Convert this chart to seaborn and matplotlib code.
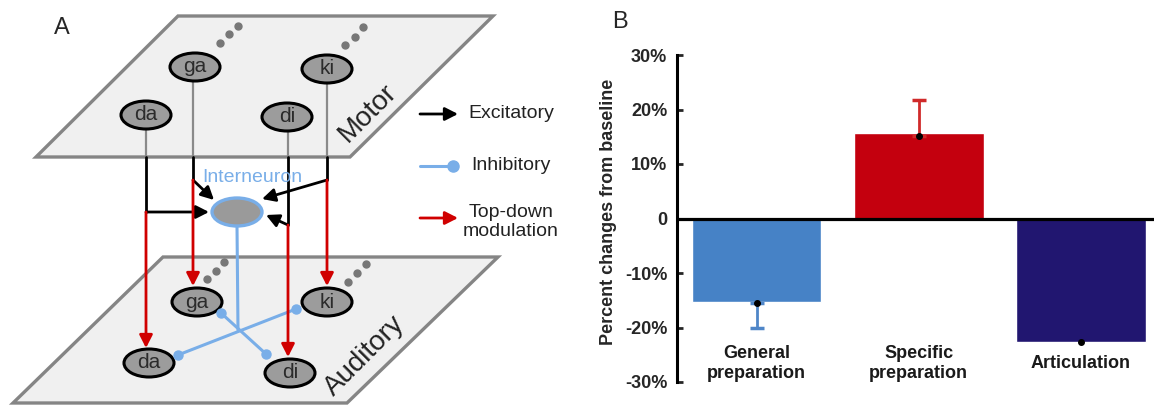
#!/usr/bin/env python3
"""Panel A: motor/auditory network diagram, panel B: percent change bar chart"""

import matplotlib
matplotlib.use("Agg")
import matplotlib.pyplot as plt
import pandas as pd
import seaborn as sns
from matplotlib.patches import Polygon, Ellipse, FancyArrowPatch

####################################################################################################
# PANEL B DATA
conditions = ["General\npreparation", "Specific\npreparation", "Articulation"]
change_pct = [-15.4, 15.6, -22.7]
mean_dots = [-15.5, 15.2, -22.7]
err_low = [4.6, 0.0, 0.0]
err_high = [0.0, 6.6, 0.0]
bar_colors = ["#4682c6", "#c4000e", "#211670"]
err_colors = ["#4f86c8", "#d02a2a", "#211670"]
ytick_vals = [-30, -20, -10, 0, 10, 20, 30]
ytick_text = ["-30%", "-20%", "-10%", "0", "10%", "20%", "30%"]

# PANEL A DIAGRAM (picture pixel coordinates)
motor_plane = [(178, 16), (493, 16), (350, 157), (36, 157)]
auditory_plane = [(163, 257), (498, 257), (347, 403), (13, 403)]
node_labels = ["da", "ga", "di", "ki"]
motor_nodes = [(146, 115), (195, 67), (287, 117), (327, 69)]
auditory_nodes = [(149, 363), (197, 302), (290, 373), (327, 302)]
path_x = [146, 193, 288, 327]
branch_y = [212, 180, 225, 180]
excit_tips = [(209, 212), (214, 200), (266, 215), (262, 199)]
red_tips = [348, 286, 357, 286]
interneuron = (237, 212)
inhib_stem = [(237, 226), (238, 330)]
inhib_links = [[(221, 313), (266, 354)], [(296, 309), (178, 355)]]
motor_dots = [[(220, 43), (229, 34), (238, 26)], [(345, 45), (355, 37), (363, 27)]]
auditory_dots = [[(207, 279), (216, 271), (224, 262)], [(348, 282), (357, 273), (366, 264)]]
####################################################################################################

sns.set_style("white")
plt.rcParams["font.family"] = ["Liberation Sans", "DejaVu Sans"]

fig = plt.figure(figsize=(11.54, 4.05), dpi=100)

# ---------------- panel A ----------------
ax_a = fig.add_axes([0, 0, 1, 1])
ax_a.set_xlim(0, 1154)
ax_a.set_ylim(405, 0)
ax_a.axis("off")

BLUE = "#79aee8"
RED = "#d00000"
GREY_LINE = "#8a8a8a"


def arrow(ax, p0, p1, color, z=4):
    ax.add_patch(FancyArrowPatch(p0, p1, arrowstyle="-|>,head_length=0.55,head_width=0.28",
                                 mutation_scale=14, color=color, lw=2.0,
                                 shrinkA=0, shrinkB=0, zorder=z))


for plane in (motor_plane, auditory_plane):
    ax_a.add_patch(Polygon(plane, closed=True, fc="#f0f0f0", ec="#858585", lw=2.4, zorder=1))

for group in motor_dots + auditory_dots:
    ax_a.plot([p[0] for p in group], [p[1] for p in group], "o", color="#777777", ms=5, zorder=2)

# descending pathways: grey inside the motor plane, black below it, then split
for i in range(4):
    x = path_x[i]
    top = motor_nodes[i][1] + 14
    ax_a.plot([x, x], [top, 157], color=GREY_LINE, lw=1.6, zorder=3)
    ax_a.plot([x, x], [157, branch_y[i]], color="black", lw=2.0, zorder=3)
    arrow(ax_a, (x, branch_y[i]), excit_tips[i], "black")
    arrow(ax_a, (x, branch_y[i]), (x, red_tips[i]), RED)

# inhibitory connections
ax_a.plot(*zip(*inhib_stem), color=BLUE, lw=2.2, zorder=3)
for link in inhib_links:
    ax_a.plot(*zip(*link), color=BLUE, lw=2.2, zorder=3)
    ax_a.plot(*zip(*link), "o", color=BLUE, ms=6.5, zorder=6)

ax_a.add_patch(Ellipse(interneuron, 50, 28, fc="#9a9a9a", ec=BLUE, lw=2.4, zorder=5))
ax_a.text(252, 178, "Interneuron", color=BLUE, fontsize=14, ha="center", va="center", zorder=6)

for nodes in (motor_nodes, auditory_nodes):
    for lab, (x, y) in zip(node_labels, nodes):
        ax_a.add_patch(Ellipse((x, y), 50, 28, fc="#9c9c9c", ec="black", lw=2.2, zorder=5))
        ax_a.text(x, y, lab, fontsize=15, color="#2b2b2b", ha="center", va="center", zorder=6)

ax_a.text(368, 113, "Motor", fontsize=20, rotation=45, ha="center", va="center", color="#222222", zorder=6)
ax_a.text(365, 356, "Auditory", fontsize=20, rotation=45, ha="center", va="center", color="#222222", zorder=6)

# legend
arrow(ax_a, (420, 114), (458, 114), "black")
ax_a.text(468, 114, "Excitatory", fontsize=14, va="center", color="#222222")
ax_a.plot([420, 453], [166, 166], color=BLUE, lw=2.2)
ax_a.plot([453], [166], "o", color=BLUE, ms=8)
ax_a.text(471, 166, "Inhibitory", fontsize=14, va="center", color="#222222")
arrow(ax_a, (420, 218), (458, 218), RED)
ax_a.text(511, 222, "Top-down\nmodulation", fontsize=14, ha="center", va="center",
          linespacing=1.15, color="#222222")

ax_a.text(62, 28, "A", fontsize=17, ha="center", va="center")
ax_a.text(620, 22, "B", fontsize=17, ha="center", va="center")

# ---------------- panel B ----------------
ax_b = fig.add_axes([677 / 1154, 23 / 405, 477 / 1154, 327 / 405])
ax_b.patch.set_alpha(0)
df = pd.DataFrame({"condition": conditions, "change": change_pct})
sns.barplot(data=df, x="condition", y="change", hue="condition", palette=bar_colors,
            width=0.8, saturation=1, errorbar=None, legend=False, ax=ax_b, zorder=2)

for i in range(3):
    if err_low[i] or err_high[i]:
        ax_b.errorbar(i, mean_dots[i], yerr=[[err_low[i]], [err_high[i]]], color=err_colors[i],
                      lw=2, capsize=5, capthick=2.5, zorder=3)
ax_b.plot(range(3), mean_dots, "o", color="black", ms=4, zorder=4)

ax_b.axhline(0, color="black", lw=2.3, zorder=5)
ax_b.set_ylim(-30, 30)
ax_b.set_xlim(-0.49, 2.45)
ax_b.set_yticks(ytick_vals)
ax_b.set_yticklabels(ytick_text, fontsize=13, fontweight="bold")
ax_b.tick_params(axis="y", direction="in", length=4, width=2, pad=7, left=True)
ax_b.set_xticks([])
ax_b.set_xlabel("")
ax_b.set_ylabel("Percent changes from baseline", fontsize=13, fontweight="bold")
ax_b.yaxis.set_label_coords(-0.126, 0.52)
for s in ("top", "right", "bottom"):
    ax_b.spines[s].set_visible(False)
ax_b.spines["left"].set_linewidth(2.2)
ax_b.spines["left"].set_color("black")

for i, lab in enumerate(conditions):
    ax_b.text(i, -26.6, lab, fontsize=13, fontweight="bold", ha="center", va="center",
              linespacing=1.2, color="#1a1a1a")

fig.savefig("out.png", dpi=100)
